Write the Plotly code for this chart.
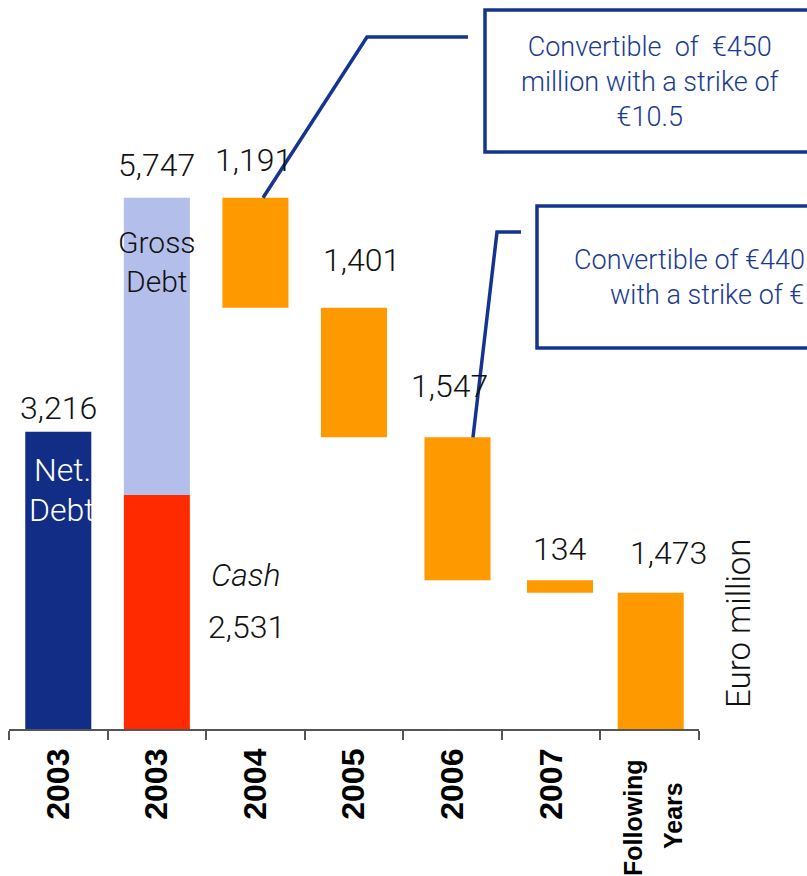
import plotly.graph_objects as go

# ---- data (Euro million) ----
categories = ["2003", "2003", "2004", "2005", "2006", "2007", "Following Years"]
net_debt = 3216
gross_debt = 5747
cash = 2531
maturity_years = ["2004", "2005", "2006", "2007", "Following Years"]
maturities = [1191, 1401, 1547, 134, 1473]

# ---- styling ----
NAVY = "#112D85"
LIGHT_BLUE = "#B3BFEA"
RED = "#FF2A00"
ORANGE = "#FF9900"
LINE_BLUE = "#15348F"
NUM_FONT = "Roboto"
NUM_WEIGHT = 300
AXIS_FONT = "Liberation Sans"

# plot-area geometry (pixels)
W, H = 807, 876
PL, PR, PT, PB = 9, 699, 8, 729
YMAX = 7800
XMIN, XMAX = -0.5, 6.5
px_per_x = (PR - PL) / (XMAX - XMIN)
px_per_y = (PB - PT) / YMAX


def paper_x(px):
    return (px - PL) / (PR - PL)


def paper_y(py):
    return (PB - py) / (PB - PT)


def data_x(px):
    return XMIN + (px - PL) / px_per_x


def data_y(py):
    return (PB - py) / px_per_y


# waterfall: each maturity bar hangs from the debt still outstanding
tops = []
remaining = gross_debt
for m in maturities:
    tops.append(remaining)
    remaining -= m
bases = [t - m for t, m in zip(tops, maturities)]
mat_pos = [2, 3, 4, 5, 6]
mat_shift = [0.0, 0.0, 0.05, 0.09, 0.01]     # small hand-placed nudges
mat_x = [p + s for p, s in zip(mat_pos, mat_shift)]

BAR_W = 0.67

fig = go.Figure()
fig.add_trace(go.Bar(x=[0], y=[net_debt], width=BAR_W, marker_color=NAVY,
                     marker_line_width=0, hoverinfo="skip"))
fig.add_trace(go.Bar(x=[1], y=[cash], width=BAR_W, marker_color=RED,
                     marker_line_width=0, hoverinfo="skip"))
fig.add_trace(go.Bar(x=[1], y=[gross_debt - cash], base=[cash], width=BAR_W,
                     marker_color=LIGHT_BLUE, marker_line_width=0, hoverinfo="skip"))
fig.add_trace(go.Bar(x=mat_x, y=maturities, base=bases, width=BAR_W,
                     marker_color=ORANGE, marker_line_width=0, hoverinfo="skip"))

annotations = []


def label(x, y, text, size=32, color="#111111", xref="x", yref="y",
          yshift=0, angle=0, xanchor="center", family=NUM_FONT,
          weight=NUM_WEIGHT, italic=False):
    t = f"<i>{text}</i>" if italic else text
    annotations.append(dict(x=x, y=y, xref=xref, yref=yref, text=t,
                            showarrow=False, xanchor=xanchor, yanchor="middle",
                            yshift=yshift, textangle=angle,
                            font=dict(family=family, size=size, color=color,
                                      weight=weight)))


# value labels above the bars (x offset in categories, y offset in px)
label(0, net_debt, f"{net_debt:,}", yshift=24)
label(1, gross_debt, f"{gross_debt:,}", yshift=33)
mat_dx = [-0.015, 0.08, -0.035, 0.09, 0.186]
mat_dy = [38, 48, 51, 31, 40]
for xi, top, val, dx, dy in zip(mat_pos, tops, maturities, mat_dx, mat_dy):
    label(xi + dx, top, f"{val:,}", yshift=dy)

# in-bar and side captions
label(data_x(62), data_y(470), "Net.", color="white")
label(data_x(62), data_y(510), "Debt", color="white")
label(1, data_y(262), "Gross<br>Debt", size=30)
label(data_x(246), data_y(575), "Cash", italic=True)
label(data_x(246), data_y(627), f"{cash:,}")

# unit label
label(paper_x(738), paper_y(623), "Euro million", size=33, xref="paper",
      yref="paper", angle=-90)

# last category label, two centred lines
label(data_x(633), paper_y(818), "Following", size=25, yref="paper", angle=-90,
      family=AXIS_FONT, color="black", weight="bold")
label(data_x(673), paper_y(816), "Years", size=25, yref="paper", angle=-90,
      family=AXIS_FONT, color="black", weight="bold")

# convertible call-outs
BOX_TEXT = "#1A3A90"
box_font = dict(family=NUM_FONT, size=27, color=BOX_TEXT, weight=NUM_WEIGHT)
annotations.append(dict(
    x=paper_x(650), y=paper_y(82), xref="paper", yref="paper",
    text="Convertible\u00a0 of\u00a0 €450<br>million with a strike of<br>€10.5",
    showarrow=False, xanchor="center", yanchor="middle", align="center",
    font=box_font))
annotations.append(dict(
    x=paper_x(572), y=paper_y(260), xref="paper", yref="paper",
    text="Convertible of €440", showarrow=False, xanchor="left",
    yanchor="middle", font=box_font))
annotations.append(dict(
    x=paper_x(608), y=paper_y(295), xref="paper", yref="paper",
    text="with a strike of €", showarrow=False, xanchor="left",
    yanchor="middle", font=box_font))

shapes = [
    dict(type="rect", xref="paper", yref="paper",
         x0=paper_x(485), x1=paper_x(840), y0=paper_y(152), y1=paper_y(10),
         line=dict(color=LINE_BLUE, width=3.5), fillcolor="rgba(0,0,0,0)"),
    dict(type="rect", xref="paper", yref="paper",
         x0=paper_x(537), x1=paper_x(840), y0=paper_y(348), y1=paper_y(206),
         line=dict(color=LINE_BLUE, width=3.5), fillcolor="rgba(0,0,0,0)"),
]

# leader lines from the 2004 and 2006 bars to the call-outs
leaders = [
    (mat_x[0] + 0.077, tops[0], (367, 37), (468, 37)),
    (mat_x[2] + 0.157, tops[2], (497, 232), (521, 232)),
]
for x0, y0, (ex, ey), (fx, fy) in leaders:
    path = (f"M {x0},{y0} L {data_x(ex)},{data_y(ey)} "
            f"L {data_x(fx)},{data_y(fy)}")
    shapes.append(dict(type="path", xref="x", yref="y", path=path,
                       line=dict(color=LINE_BLUE, width=3.5)))

fig.update_layout(
    width=W, height=H,
    margin=dict(l=PL, r=W - PR, t=PT, b=H - PB, pad=0),
    paper_bgcolor="white", plot_bgcolor="white",
    barmode="overlay", showlegend=False,
    annotations=annotations, shapes=shapes,
    xaxis=dict(
        range=[XMIN, XMAX], fixedrange=True,
        tickmode="array", tickvals=list(range(6)), ticktext=categories[:6],
        tickangle=-90, ticks="", ticklabelstandoff=5,
        tickfont=dict(family=AXIS_FONT, size=32, color="black", weight="bold"),
        showline=True, linecolor="#555555", linewidth=1.5,
        showgrid=False, zeroline=False,
        minor=dict(tickmode="linear", tick0=-0.5, dtick=1, ticks="outside",
                   ticklen=9, tickcolor="#555555", tickwidth=1.5, showgrid=False),
    ),
    yaxis=dict(range=[0, YMAX], visible=False, fixedrange=True),
)

fig.write_html("out.html")
